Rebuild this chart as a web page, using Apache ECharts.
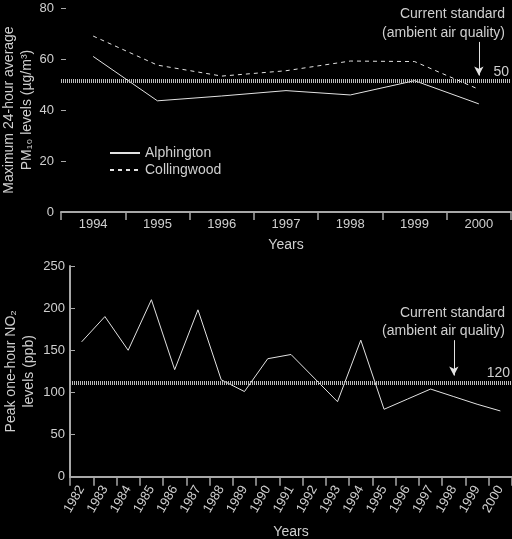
<!DOCTYPE html>
<html><head><meta charset="utf-8">
<script src="https://cdn.jsdelivr.net/npm/echarts@6/dist/echarts.min.js"></script>
<style>html,body{margin:0;padding:0;background:#000}#c{width:512px;height:539px}</style>
</head><body><div id="c"></div>
<script>
// ---- Top chart: PM10 ----
const pmYears = ['1994','1995','1996','1997','1998','1999','2000'];
const alphington = [61, 43.6, 45.5, 47.6, 45.9, 51.5, 42.4];
const collingwood = [69, 57.6, 53.3, 55.4, 59.2, 59, 48.1];
const pmStandardLine = 51.5;
const pmStandardLabel = '50';
const pmArrow = {x: 6, from: 66.7, to: 53.5};
// ---- Bottom chart: NO2 ----
const noYears = ['1982','1983','1984','1985','1986','1987','1988','1989','1990','1991',
                 '1992','1993','1994','1995','1996','1997','1998','1999','2000'];
const no2 = [160, 190, 150, 210, 127, 198, 115, 101, 140, 145, 117, 89, 162, 80, 92, 104, 95, 86, 78];
const noStandardLine = 112;
const noStandardLabel = '120';
const noArrow = {x: 16.34, from: 162, to: 120};
const standardText = ['Current standard', '(ambient air quality)'];

const TXT = '#cfcfcf', LINE = '#e2e2e2', AX = '#a8a8a8';
const FONT = "'Liberation Sans', Arial, sans-serif";

const chart = echarts.init(document.getElementById('c'));

function stdLine(v, lab) {
  return {yAxis: v,
    lineStyle: {color: '#bdbdbd', width: 4, type: [1, 1]},
    label: {show: true, position: 'insideEndTop', formatter: lab, color: TXT, fontSize: 14, fontFamily: FONT, distance: 2}};
}
function arrow(a) {
  return [{coord: [a.x, a.from], symbol: 'none'},
          {coord: [a.x, a.to], symbol: 'arrow', symbolSize: [7, 9]}];
}

chart.setOption({
  backgroundColor: '#000',
  animation: false,
  textStyle: {fontFamily: FONT, color: TXT},
  grid: [
    {left: 61, right: 1, top: 8, height: 204, outerBoundsMode: 'none', containLabel: false},
    {left: 70, right: 0, top: 266, height: 210.7, outerBoundsMode: 'none', containLabel: false}
  ],
  legend: {
    data: ['Alphington', 'Collingwood'],
    orient: 'vertical', left: 104, top: 141,
    itemWidth: 30, itemHeight: 10, itemGap: 3,
    itemStyle: {opacity: 0},
    textStyle: {color: TXT, fontSize: 14, fontFamily: FONT}
  },
  xAxis: [
    {type: 'category', gridIndex: 0, data: pmYears, boundaryGap: true,
     axisLine: {lineStyle: {color: AX, width: 2}},
     axisTick: {show: true, length: 8, lineStyle: {color: AX, width: 1.5}},
     axisLabel: {color: TXT, fontSize: 13, margin: 6, interval: 0},
     name: 'Years', nameLocation: 'middle', nameGap: 26, nameMoveOverlap: false,
     nameTextStyle: {color: TXT, fontSize: 14}},
    {type: 'category', gridIndex: 1, data: noYears, boundaryGap: true,
     axisLine: {lineStyle: {color: AX, width: 2}},
     axisTick: {show: true, length: 9, lineStyle: {color: AX, width: 1.5}},
     axisLabel: {color: TXT, fontSize: 13, margin: 10, interval: 0, rotate: 60},
     name: 'Years', nameLocation: 'middle', nameGap: 48, nameMoveOverlap: false,
     nameTextStyle: {color: TXT, fontSize: 14}}
  ],
  yAxis: [
    {type: 'value', gridIndex: 0, min: 0, max: 80, interval: 20,
     axisLine: {show: false},
     axisTick: {show: true, inside: true, length: 5, lineStyle: {color: AX}},
     axisLabel: {color: TXT, fontSize: 13, margin: 7},
     splitLine: {show: false},
     name: 'Maximum 24-hour average\nPM\u2081\u2080 levels (\u00b5g/m\u00b3)',
     nameLocation: 'middle', nameRotate: 90, nameGap: 25, nameMoveOverlap: false,
     nameTextStyle: {color: TXT, fontSize: 14, lineHeight: 18}},
    {type: 'value', gridIndex: 1, min: 0, max: 250, interval: 50,
     axisLine: {show: true, lineStyle: {color: AX, width: 2}},
     axisTick: {show: true, inside: true, length: 5, lineStyle: {color: AX}},
     axisLabel: {color: TXT, fontSize: 13, margin: 5},
     splitLine: {show: false},
     name: 'Peak one-hour NO\u2082\nlevels (ppb)',
     nameLocation: 'middle', nameRotate: 90, nameGap: 32, nameMoveOverlap: false,
     nameTextStyle: {color: TXT, fontSize: 14, lineHeight: 18}}
  ],
  series: [
    {name: 'Alphington', type: 'line', xAxisIndex: 0, yAxisIndex: 0, data: alphington,
     symbol: 'none', color: LINE, lineStyle: {color: LINE, width: 1},
     markLine: {silent: true, animation: false, symbol: ['none', 'none'],
       data: [stdLine(pmStandardLine, pmStandardLabel)]}},
    {name: 'Collingwood', type: 'line', xAxisIndex: 0, yAxisIndex: 0, data: collingwood,
     symbol: 'none', color: LINE, lineStyle: {color: LINE, width: 1, type: [4, 4]},
     markLine: {silent: true, animation: false, symbol: ['none', 'none'],
       lineStyle: {color: LINE, width: 1, type: 'solid'}, label: {show: false},
       data: [arrow(pmArrow)]}},
    {name: 'NO2', type: 'line', xAxisIndex: 1, yAxisIndex: 1, data: no2,
     symbol: 'none', color: LINE, lineStyle: {color: LINE, width: 1},
     markLine: {silent: true, animation: false, symbol: ['none', 'none'],
       lineStyle: {color: LINE, width: 1, type: 'solid'}, label: {show: false},
       data: [stdLine(noStandardLine, noStandardLabel), arrow(noArrow)]}}
  ],
  graphic: [
    {type: 'text', x: 505, y: 5, style: {text: standardText.join('\n'), fill: TXT, font: '14px ' + FONT, align: 'right', lineHeight: 19}},
    {type: 'text', x: 505, y: 304, style: {text: standardText.join('\n'), fill: TXT, font: '14px ' + FONT, align: 'right', lineHeight: 18}}
  ]
});
</script></body></html>
